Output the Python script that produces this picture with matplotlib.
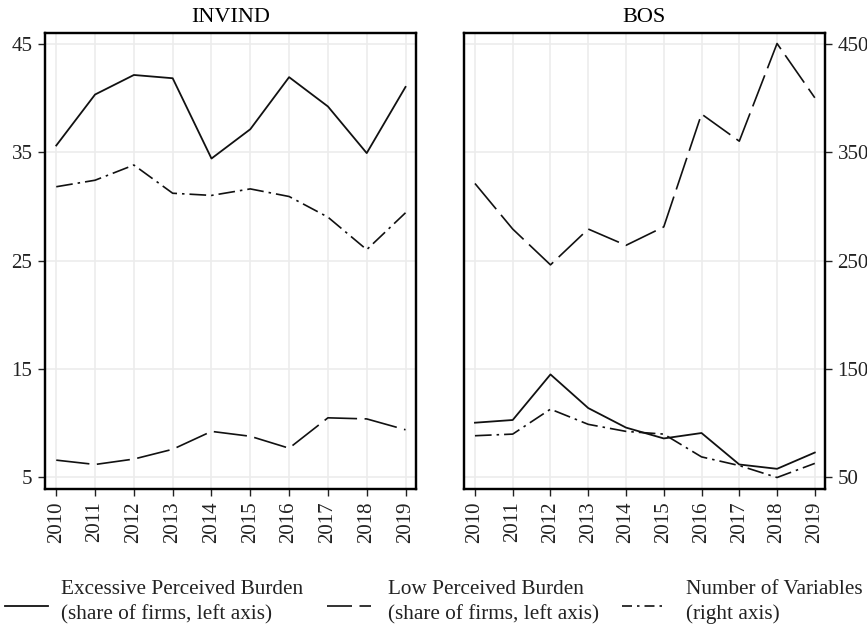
import matplotlib
matplotlib.use("Agg")
import matplotlib.pyplot as plt
from matplotlib.lines import Line2D

plt.rcParams['font.family'] = ['Liberation Serif', 'DejaVu Serif']

years = [2010, 2011, 2012, 2013, 2014, 2015, 2016, 2017, 2018, 2019]

# INVIND survey
invind_excessive = [35.6, 40.3, 42.1, 41.8, 34.4, 37.1, 41.9, 39.2, 34.9, 41.0]
invind_low = [6.6, 6.2, 6.7, 7.6, 9.25, 8.8, 7.7, 10.5, 10.4, 9.4]
invind_nvars = [318, 324, 338, 312, 310, 316, 309, 290, 260, 294]

# BOS survey
bos_excessive = [10.05, 10.3, 14.5, 11.4, 9.6, 8.6, 9.1, 6.2, 5.8, 7.3]
bos_low = [32.1, 27.9, 24.6, 27.9, 26.4, 28.1, 38.5, 36.0, 45.0, 40.0]
bos_nvars = [88.5, 90, 113, 99, 92.5, 90, 69, 61, 50, 63]

left_ticks = [5, 15, 25, 35, 45]
right_ticks = [50, 150, 250, 350, 450]

solid = '-'
dashed = (0, (20, 4.5))
dashdot = (0, (10, 3, 1.5, 3))
ink = '#111111'
grid_col = '#ececec'
tick_fs = 15

fig = plt.figure(figsize=(8.67, 6.28), dpi=100)
ax1 = fig.add_axes([45 / 867, 1 - 489 / 628, 371 / 867, 456 / 628])
ax2 = fig.add_axes([464 / 867, 1 - 489 / 628, 361 / 867, 456 / 628])


def panel(ax, title, excessive, low, nvars, show_left, show_right):
    ax.set_xlim(2009.71, 2019.27)
    ax.set_ylim(3.94, 45.97)
    ax.set_xticks(years)
    ax.set_xticklabels([str(y) for y in years], rotation=90)
    ax.set_yticks(left_ticks)
    ax.grid(True, color=grid_col, linewidth=1.2, zorder=0)
    ax.set_axisbelow(True)
    ax.plot(years, excessive, color=ink, linestyle=solid, linewidth=1.3, zorder=3)
    ax.plot(years, low, color=ink, linestyle=dashed, linewidth=1.2, zorder=3)
    ax.set_title(title, fontsize=16, pad=8)

    # number of variables on its own scale
    tw = ax.twinx()
    tw.set_ylim(39.4, 459.7)
    tw.set_yticks(right_ticks)
    tw.plot(years, nvars, color=ink, linestyle=dashdot, linewidth=1.2, zorder=3)

    for a in (ax, tw):
        a.tick_params(axis='both', direction='out', length=5, width=1.0,
                      labelsize=tick_fs, pad=4, colors='#222222')
        for s in a.spines.values():
            s.set_linewidth(1.6)
            s.set_color('black')
    ax.tick_params(axis='y', left=show_left, labelleft=show_left,
                   right=False, labelright=False)
    tw.tick_params(axis='y', right=show_right, labelright=show_right,
                   left=False, labelleft=False)


panel(ax1, 'INVIND', invind_excessive, invind_low, invind_nvars, True, False)
panel(ax2, 'BOS', bos_excessive, bos_low, bos_nvars, False, True)

# legend drawn along the bottom of the figure
labels = ['Excessive Perceived Burden\n(share of firms, left axis)',
          'Low Perceived Burden\n(share of firms, left axis)',
          'Number of Variables\n(right axis)']
styles = [(solid, 1.3), ((0, (15, 4.5)), 1.2), ((0, (6, 3, 1.5, 3)), 1.2)]
handle_x = [(5, 48), (327, 371), (622, 666)]
text_x = [61, 388, 686]
for lab, (ls, lw), (x0, x1), tx in zip(labels, styles, handle_x, text_x):
    fig.add_artist(Line2D([x0 / 867, x1 / 867], [1 - 606 / 628] * 2,
                          transform=fig.transFigure, color=ink,
                          linestyle=ls, linewidth=lw))
    fig.text(tx / 867, 1 - 602 / 628, lab, fontsize=15.3, va='center',
             ha='left', linespacing=1.4, color='#222222')

fig.savefig('out.png', dpi=100)
